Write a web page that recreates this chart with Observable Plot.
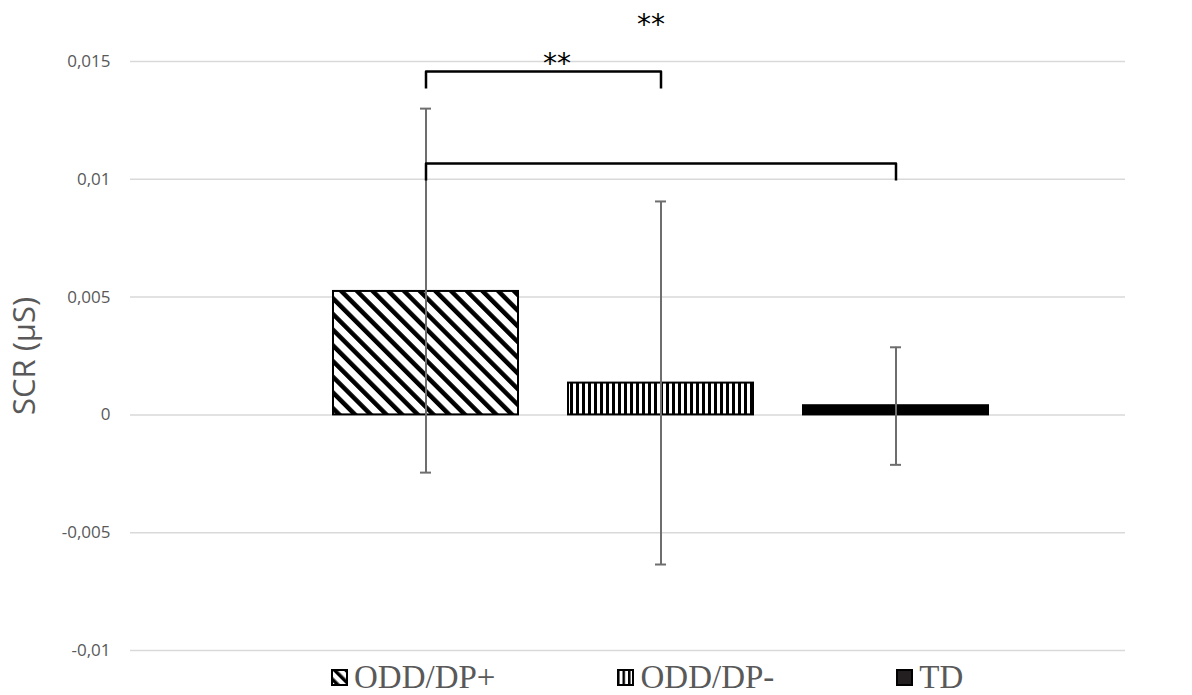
<!DOCTYPE html>
<html>
<head>
<meta charset="utf-8">
<script src="https://cdn.jsdelivr.net/npm/d3@7"></script>
<script src="https://cdn.jsdelivr.net/npm/@observablehq/plot@0.6"></script>
<style>
  html, body { margin: 0; padding: 0; background: #fff; }
  #legend { display: flex; align-items: center; height: 35px; padding-left: 331px; gap: 122px;
    font-family: "Liberation Serif", "Times New Roman", serif; font-size: 33px; line-height: 1; color: #595959; }
  #legend .item { display: flex; align-items: center; }
  #legend svg { margin-right: 6px; }
</style>
</head>
<body>
<div id="chart"></div>
<div id="legend"></div>
<script>
// ---- data ----
const categories = ["ODD/DP+", "ODD/DP-", "TD"];
const means = [0.00524, 0.00135, 0.00039];
const errLow = [-0.00245, -0.00635, -0.00212];
const errHigh = [0.0130, 0.00906, 0.00287];
const yTicks = [-0.01, -0.005, 0, 0.005, 0.01, 0.015];
const yLabel = "SCR (µS)";
const bracketFrom = ["ODD/DP+", "ODD/DP+"];
const bracketTo = ["ODD/DP-", "TD"];
const bracketTop = [0.01458, 0.01067];
const bracketFoot = [0.01385, 0.00995];
const sigLabels = ["**", "**"];
const sigY = [0.01490, 0.01655];
const fills = ["url(#pDiag)", "url(#pVert)", "#000000"];

// ---- derived tables ----
const rows = categories.map((c, i) => ({cat: c, mean: means[i], lo: errLow[i], hi: errHigh[i]}));
const bracketPts = [];
bracketFrom.forEach((a, i) => {
  bracketPts.push({b: i, x: a, y: bracketFoot[i]});
  bracketPts.push({b: i, x: a, y: bracketTop[i]});
  bracketPts.push({b: i, x: bracketTo[i], y: bracketTop[i]});
  bracketPts.push({b: i, x: bracketTo[i], y: bracketFoot[i]});
});
const fmt = d => d === 0 ? "0" : String(+d.toFixed(3)).replace(".", ",");

const chart = Plot.plot({
  width: 1192,
  height: 660,
  marginLeft: 130,
  marginRight: 67,
  marginTop: 61,
  marginBottom: 10,
  style: {fontFamily: "'Open Sans', sans-serif", fontSize: "17px", color: "#595959", background: "#fff"},
  x: {type: "band", domain: categories, range: [307.5, 1012.5], paddingInner: 0.213, paddingOuter: 0.1065, axis: null},
  y: {domain: [-0.01, 0.015], axis: null},
  color: {type: "ordinal", domain: categories, range: fills},
  marks: [
    Plot.gridY(yTicks, {stroke: "#d9d9d9", strokeOpacity: 1, strokeWidth: 1.5}),
    Plot.axisY(yTicks, {tickSize: 0, tickPadding: 20, tickFormat: fmt, fill: "#595959", label: null}),
    Plot.text([yLabel], {frameAnchor: "left", dx: -105, rotate: -90, textAnchor: "middle", fontSize: 31, fill: "#595959"}),
    Plot.barY(rows, {x: "cat", y: "mean", fill: "cat", stroke: "#000", strokeWidth: 2}),
    Plot.ruleX(rows, {x: "cat", y1: "lo", y2: "hi", stroke: "#6e6e6e", strokeWidth: 2}),
    Plot.tickY(rows, {x: "cat", y: "lo", stroke: "#6e6e6e", strokeWidth: 2, insetLeft: 87, insetRight: 87}),
    Plot.tickY(rows, {x: "cat", y: "hi", stroke: "#6e6e6e", strokeWidth: 2, insetLeft: 87, insetRight: 87}),
    Plot.line(bracketPts, {x: "x", y: "y", z: "b", stroke: "#000", strokeWidth: 2.5, strokeLinejoin: "round", strokeLinecap: "butt"}),
    Plot.text([0], {x: () => "ODD/DP-", y: () => sigY[0], text: () => sigLabels[0], dx: -104, fontSize: 28, fontFamily: "DejaVu Sans", fill: "#000"}),
    Plot.text([0], {x: () => "ODD/DP-", y: () => sigY[1], text: () => sigLabels[1], dx: -10, fontSize: 28, fontFamily: "DejaVu Sans", fill: "#000"})
  ]
});

// patterns
const svg = d3.select(chart.tagName.toLowerCase() === "svg" ? chart : chart.querySelector("svg"));
const defs = svg.insert("defs", ":first-child");
function addPatterns(defs, suffix, diagW, diagStripe, vertW, vertStripe) {
  const pd = defs.append("pattern").attr("id", "pDiag" + suffix).attr("patternUnits", "userSpaceOnUse")
    .attr("width", diagW).attr("height", diagW).attr("patternTransform", "rotate(-45)");
  pd.append("rect").attr("width", diagW).attr("height", diagW).attr("fill", "#fff");
  pd.append("rect").attr("width", diagStripe).attr("height", diagW).attr("fill", "#000");
  const pv = defs.append("pattern").attr("id", "pVert" + suffix).attr("patternUnits", "userSpaceOnUse")
    .attr("width", vertW).attr("height", vertW);
  pv.append("rect").attr("width", vertW).attr("height", vertW).attr("fill", "#fff");
  pv.append("rect").attr("width", vertStripe).attr("height", vertW).attr("fill", "#000");
}
addPatterns(defs, "", 11.1, 4.5, 6, 3);
document.getElementById("chart").append(chart);

// legend
const legend = d3.select("#legend");
const swFills = ["url(#pDiagS)", "url(#pVertS)", "#231f20"];
categories.forEach((c, i) => {
  const item = legend.append("div").attr("class", "item");
  const s = item.append("svg").attr("width", 17).attr("height", 17);
  if (i === 0) addPatterns(s.append("defs"), "S", 8, 3.5, 5.5, 2.5);
  s.append("rect").attr("x", 1).attr("y", 1).attr("width", 15).attr("height", 15)
    .attr("fill", swFills[i]).attr("stroke", "#000").attr("stroke-width", 2);
  item.append("span").text(c);
});
</script>
</body>
</html>
